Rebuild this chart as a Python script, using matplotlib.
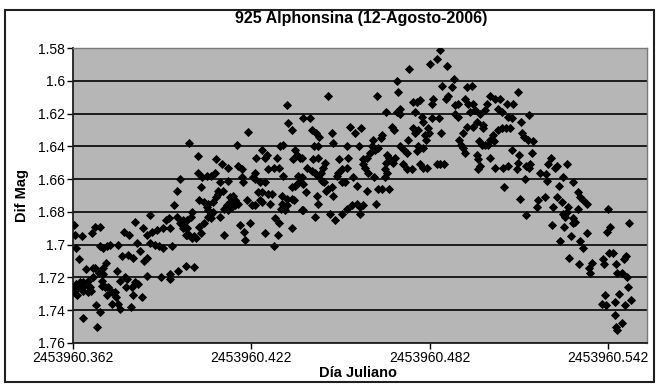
import matplotlib
matplotlib.use('Agg')
import matplotlib.pyplot as plt
from matplotlib.patches import Rectangle

plt.rcParams['font.family'] = ['Liberation Sans', 'DejaVu Sans']

# ------------------------------------------------------------------
# Photometry of 925 Alphonsina, night of 2006-08-12
# Julian day = JD_BASE + fraction, differential magnitude per frame
# ------------------------------------------------------------------
JD_BASE = 2453960.0

# start of the night, faint branch (x < .402)
t_early = [0.4010, 0.3980, 0.3970, 0.3960, 0.3880, 0.3830, 0.3624, 0.3628, 0.3650, 0.3685,
           0.3695, 0.3710, 0.3630, 0.3640, 0.3710, 0.3720, 0.3736, 0.3746, 0.3770, 0.3790,
           0.3810, 0.3786, 0.3806, 0.3823, 0.3836, 0.3846, 0.3856, 0.3870, 0.3860, 0.3870,
           0.3887, 0.3903, 0.3923, 0.3933, 0.3943, 0.3947, 0.3880, 0.3897, 0.3910, 0.3923,
           0.3954, 0.3971, 0.3980, 0.3990, 0.3990, 0.4004, 0.4004, 0.4001, 0.3975, 0.3948,
           0.3945, 0.3917, 0.3870,
           0.3631, 0.3638, 0.3645, 0.3655, 0.3658, 0.3665, 0.3672, 0.3678, 0.3688, 0.3688,
           0.3695, 0.3708, 0.3718, 0.3722, 0.3732, 0.3722, 0.3635, 0.3655, 0.3672, 0.3682,
           0.3719, 0.3729, 0.3739, 0.3736, 0.3752, 0.3762, 0.3766, 0.3752, 0.3772,
           0.3769, 0.3779, 0.3796, 0.3803, 0.3799, 0.3819, 0.3829, 0.3839, 0.3823, 0.3853,
           0.3779, 0.3816, 0.3698, 0.3712, 0.3655, 0.3702, 0.3621, 0.3624]
m_early = [1.638, 1.660, 1.667, 1.676, 1.682, 1.686, 1.688, 1.694, 1.695, 1.693,
           1.689, 1.689, 1.702, 1.709, 1.701, 1.702, 1.701, 1.700, 1.700, 1.692,
           1.694, 1.707, 1.706, 1.708, 1.699, 1.704, 1.690, 1.694, 1.710, 1.708,
           1.692, 1.691, 1.690, 1.685, 1.684, 1.690, 1.699, 1.700, 1.701, 1.702,
           1.701, 1.683, 1.687, 1.685, 1.690, 1.690, 1.694, 1.713, 1.716, 1.718,
           1.721, 1.720, 1.719,
           1.724, 1.726, 1.723, 1.723, 1.725, 1.715, 1.722, 1.726, 1.714, 1.720,
           1.714, 1.717, 1.722, 1.714, 1.711, 1.718, 1.731, 1.728, 1.729, 1.728,
           1.725, 1.726, 1.726, 1.731, 1.729, 1.729, 1.732, 1.736, 1.736,
           1.716, 1.722, 1.720, 1.721, 1.726, 1.726, 1.723, 1.724, 1.731, 1.732,
           1.739, 1.738, 1.737, 1.741, 1.745, 1.750, 1.726, 1.729]

# rising part of the curve (.400 - .440)
t_rise = [0.4341, 0.4210, 0.4173, 0.4344, 0.4357, 0.4394, 0.4042, 0.4102, 0.4122, 0.4142,
          0.4176, 0.4190, 0.4257, 0.4237, 0.4267, 0.4274, 0.4307, 0.4317, 0.4327, 0.4361,
          0.4374, 0.4368, 0.4391, 0.4277, 0.4297, 0.4314, 0.4327, 0.4233, 0.4226, 0.4042,
          0.4055, 0.4072, 0.4085, 0.4099, 0.4052, 0.4116, 0.4142, 0.4190, 0.4193, 0.4250,
          0.4267, 0.4233, 0.4357, 0.4367, 0.4381, 0.4391, 0.4378, 0.4109, 0.4126, 0.4243,
          0.4257, 0.4277, 0.4324, 0.4341, 0.4045, 0.4062, 0.4075, 0.4092, 0.4102, 0.4109,
          0.4149, 0.4159, 0.4166, 0.4176, 0.4149, 0.4206, 0.4223, 0.4233, 0.4250, 0.4257,
          0.4284, 0.4291, 0.4357, 0.4364, 0.4324, 0.4331, 0.4321, 0.4072, 0.4075, 0.4085,
          0.4092, 0.4075, 0.4085, 0.4129, 0.4139, 0.4142, 0.4156, 0.4166, 0.4021, 0.4004,
          0.4018, 0.4116, 0.4062, 0.4045, 0.4052, 0.4028, 0.4011, 0.4001, 0.4021, 0.4035,
          0.3998, 0.4129, 0.4183, 0.4196, 0.4200, 0.4217, 0.4267, 0.4301, 0.4314, 0.4311,
          0.4357, 0.4297, 0.4028, 0.4341, 0.4334, 0.4391]
m_rise = [1.615, 1.631, 1.639, 1.626, 1.630, 1.623, 1.646, 1.648, 1.651, 1.653,
          1.652, 1.654, 1.642, 1.647, 1.647, 1.645, 1.647, 1.640, 1.639, 1.648,
          1.645, 1.642, 1.647, 1.654, 1.653, 1.653, 1.658, 1.656, 1.659, 1.656,
          1.659, 1.658, 1.658, 1.656, 1.665, 1.662, 1.661, 1.659, 1.662, 1.662,
          1.662, 1.660, 1.665, 1.664, 1.662, 1.659, 1.658, 1.667, 1.667, 1.668,
          1.668, 1.669, 1.670, 1.672, 1.673, 1.674, 1.675, 1.674, 1.671, 1.669,
          1.671, 1.670, 1.673, 1.675, 1.674, 1.673, 1.676, 1.676, 1.673, 1.674,
          1.675, 1.669, 1.672, 1.673, 1.675, 1.677, 1.678, 1.677, 1.679, 1.681,
          1.680, 1.683, 1.684, 1.678, 1.676, 1.679, 1.677, 1.676, 1.680, 1.685,
          1.683, 1.683, 1.687, 1.689, 1.693, 1.695, 1.694, 1.694, 1.696, 1.696,
          1.689, 1.694, 1.688, 1.692, 1.697, 1.687, 1.693, 1.684, 1.687, 1.694,
          1.690, 1.701, 1.7135, 1.676, 1.679, 1.679]

# approach to maximum (.438 - .478)
t_max = [0.4751, 0.4711, 0.4714, 0.4478, 0.4643, 0.4764, 0.4778, 0.4674, 0.4711, 0.4721,
         0.4721, 0.4771, 0.4419, 0.4425, 0.4438, 0.4449, 0.4492, 0.4495, 0.4552, 0.4589,
         0.4569, 0.4694, 0.4701, 0.4661, 0.4657, 0.4630, 0.4748, 0.4764, 0.4771, 0.4432,
         0.4445, 0.4542, 0.4583, 0.4626, 0.4636, 0.4647, 0.4620, 0.4610, 0.4721, 0.4734,
         0.4744, 0.4677, 0.4704, 0.4385, 0.4429, 0.4445, 0.4409, 0.4425, 0.4435, 0.4445,
         0.4455, 0.4462, 0.4469, 0.4516, 0.4526, 0.4546, 0.4542, 0.4596, 0.4603, 0.4613,
         0.4596, 0.4674, 0.4670, 0.4677, 0.4697, 0.4684, 0.4731, 0.4744, 0.4761, 0.4385,
         0.4395, 0.4405, 0.4442, 0.4445, 0.4459, 0.4465, 0.4472, 0.4479, 0.4492, 0.4495,
         0.4509, 0.4512, 0.4526, 0.4536, 0.4563, 0.4576, 0.4610, 0.4633, 0.4647, 0.4661,
         0.4684, 0.4670, 0.4640, 0.4395, 0.4435, 0.4485, 0.4502, 0.4526, 0.4542, 0.4559,
         0.4576, 0.4586, 0.4586, 0.4596]
m_max = [1.593, 1.600, 1.607, 1.609, 1.609, 1.613, 1.613, 1.619, 1.619, 1.617,
         1.620, 1.619, 1.623, 1.630, 1.632, 1.634, 1.632, 1.638, 1.628, 1.629,
         1.632, 1.628, 1.630, 1.633, 1.635, 1.636, 1.636, 1.629, 1.632, 1.640,
         1.640, 1.640, 1.640, 1.640, 1.642, 1.641, 1.644, 1.647, 1.640, 1.642,
         1.644, 1.645, 1.647, 1.647, 1.648, 1.647, 1.653, 1.655, 1.656, 1.658,
         1.656, 1.653, 1.650, 1.648, 1.654, 1.647, 1.653, 1.651, 1.653, 1.656,
         1.648, 1.650, 1.654, 1.656, 1.650, 1.647, 1.651, 1.654, 1.654, 1.661,
         1.663, 1.668, 1.670, 1.675, 1.661, 1.662, 1.667, 1.666, 1.665, 1.670,
         1.658, 1.656, 1.662, 1.662, 1.659, 1.664, 1.667, 1.659, 1.666, 1.666,
         1.666, 1.659, 1.675, 1.679, 1.683, 1.681, 1.685, 1.681, 1.678, 1.676,
         1.675, 1.677, 1.681, 1.676]

# peak and turnover (.477 - .517)
t_peak = [0.4855, 0.4845, 0.4822, 0.4878, 0.4902, 0.4862, 0.4895, 0.4963, 0.4946, 0.4882,
          0.4875, 0.4832, 0.4828, 0.4788, 0.4939, 0.4949, 0.4966, 0.4906, 0.4916, 0.5023,
          0.5040, 0.5057, 0.5117, 0.5100, 0.5080, 0.5013, 0.5006, 0.4990, 0.4973, 0.5050,
          0.5064, 0.4906, 0.4916, 0.4956, 0.4795, 0.4798, 0.4828, 0.4852, 0.5084, 0.5097,
          0.5154, 0.5127, 0.4980, 0.4966, 0.5000, 0.5000, 0.4946, 0.4933, 0.4781, 0.4815,
          0.4818, 0.4859, 0.5050, 0.5064, 0.5077, 0.5090, 0.5033, 0.5023, 0.5037, 0.5017,
          0.5006, 0.4919, 0.4926, 0.4933, 0.4939, 0.4986, 0.4996, 0.4805, 0.4808, 0.4781,
          0.4798, 0.4778, 0.5131, 0.5137, 0.5151, 0.5168, 0.5097, 0.5121, 0.5164, 0.4980,
          0.4983, 0.4990, 0.4983, 0.5023, 0.5040, 0.5067, 0.5084, 0.5117, 0.5114, 0.5144,
          0.5154, 0.4788, 0.4798, 0.4812, 0.4845, 0.4855, 0.4869, 0.5070, 0.5140, 0.5124,
          0.5144]
m_peak = [1.581, 1.587, 1.590, 1.591, 1.599, 1.603, 1.604, 1.603, 1.604, 1.609,
          1.611, 1.611, 1.614, 1.612, 1.611, 1.614, 1.614, 1.615, 1.614, 1.609,
          1.611, 1.611, 1.607, 1.614, 1.614, 1.614, 1.618, 1.620, 1.618, 1.617,
          1.619, 1.620, 1.622, 1.619, 1.622, 1.625, 1.623, 1.623, 1.622, 1.623,
          1.621, 1.625, 1.625, 1.628, 1.627, 1.629, 1.628, 1.632, 1.630, 1.629,
          1.632, 1.632, 1.630, 1.629, 1.629, 1.629, 1.633, 1.636, 1.637, 1.639,
          1.639, 1.636, 1.639, 1.641, 1.644, 1.637, 1.639, 1.633, 1.636, 1.640,
          1.641, 1.643, 1.632, 1.634, 1.636, 1.637, 1.642, 1.645, 1.644, 1.645,
          1.648, 1.652, 1.654, 1.647, 1.653, 1.653, 1.652, 1.650, 1.654, 1.652,
          1.653, 1.651, 1.653, 1.653, 1.651, 1.651, 1.651, 1.665, 1.660, 1.672,
          1.682]

# decline at the end of the night (x > .515)
t_late = [0.5229, 0.5219, 0.5249, 0.5242, 0.5283, 0.5158, 0.5191, 0.5211, 0.5215, 0.5255,
          0.5269, 0.5303, 0.5319, 0.5326, 0.5336, 0.5349, 0.5185, 0.5181, 0.5208, 0.5235,
          0.5249, 0.5265, 0.5286, 0.5283, 0.5269, 0.5276, 0.5319, 0.5303, 0.5309, 0.5303,
          0.5232, 0.5272, 0.5420, 0.5427, 0.5417, 0.5490, 0.5349, 0.5296, 0.5259, 0.5326,
          0.5336, 0.5289, 0.5323, 0.5366, 0.5356, 0.5359, 0.5403, 0.5406, 0.5423, 0.5437,
          0.5447, 0.5450, 0.5467, 0.5480, 0.5474, 0.5484, 0.5487, 0.5497, 0.5457, 0.5444,
          0.5477, 0.5410, 0.5400, 0.5413, 0.5444, 0.5467, 0.5447, 0.5450]
m_late = [1.647, 1.651, 1.652, 1.653, 1.651, 1.651, 1.656, 1.657, 1.661, 1.664,
          1.659, 1.662, 1.668, 1.671, 1.673, 1.675, 1.673, 1.677, 1.671, 1.677,
          1.671, 1.674, 1.677, 1.680, 1.681, 1.683, 1.678, 1.684, 1.686, 1.687,
          1.688, 1.689, 1.678, 1.689, 1.692, 1.687, 1.693, 1.695, 1.698, 1.698,
          1.702, 1.708, 1.712, 1.711, 1.714, 1.717, 1.709, 1.712, 1.705, 1.705,
          1.712, 1.717, 1.717, 1.707, 1.709, 1.720, 1.726, 1.734, 1.730, 1.735,
          1.737, 1.731, 1.736, 1.737, 1.743, 1.748, 1.750, 1.752]

y_ticks = [1.58, 1.60, 1.62, 1.64, 1.66, 1.68, 1.70, 1.72, 1.74, 1.76]
y_tick_labels = ['1.58', '1.6', '1.62', '1.64', '1.66', '1.68', '1.7', '1.72', '1.74', '1.76']
x_ticks = [2453960.362, 2453960.422, 2453960.482, 2453960.542]
x_tick_labels = ['2453960.362', '2453960.422', '2453960.482', '2453960.542']

jd = [JD_BASE + t for t in t_early + t_rise + t_max + t_peak + t_late]
dif_mag = m_early + m_rise + m_max + m_peak + m_late

W, H = 658, 384
fig = plt.figure(figsize=(W / 100, H / 100), dpi=100)
fig.patch.set_facecolor('white')

# chart frame
fig.patches.append(Rectangle((5 / W, 2 / H), 649 / W, 372 / H, transform=fig.transFigure,
                             fill=False, edgecolor='#202020', linewidth=1.5))

ax = fig.add_axes([73 / W, 1 - 343 / H, (647 - 73) / W, (343 - 48) / H])
ax.set_facecolor('#b6b6b6')

ax.plot(jd, dif_mag, linestyle='none', marker='D', markersize=4.0,
        markerfacecolor='black', markeredgecolor='black', markeredgewidth=0.6, zorder=3)

ax.set_xlim(2453960.362, 2453960.5552)
ax.set_ylim(1.76, 1.58)
ax.set_yticks(y_ticks)
ax.set_yticklabels(y_tick_labels)
ax.set_xticks(x_ticks)
ax.set_xticklabels(x_tick_labels)
ax.tick_params(direction='out', length=4, width=1, colors='black', labelsize=10, pad=2)

ax.yaxis.grid(True, color='#101010', linewidth=1.3)
ax.set_axisbelow(True)
for side in ['left', 'bottom']:
    ax.spines[side].set_color('#202020')
    ax.spines[side].set_linewidth(1.3)
for side in ['top', 'right']:
    ax.spines[side].set_color('#7a7a7a')
    ax.spines[side].set_linewidth(1.0)

fig.text(361 / W, 1 - 18 / H, '925 Alphonsina (12-Agosto-2006)', ha='center', va='center',
         fontsize=11.5, fontweight='bold')
fig.text(358 / W, 1 - 373 / H, 'Día Juliano', ha='center', va='center',
         fontsize=10.5, fontweight='bold')
fig.text(22 / W, 1 - 195 / H, 'Dif Mag', ha='center', va='center', rotation=90,
         fontsize=10.5, fontweight='bold')

fig.savefig('out.png', dpi=100)
